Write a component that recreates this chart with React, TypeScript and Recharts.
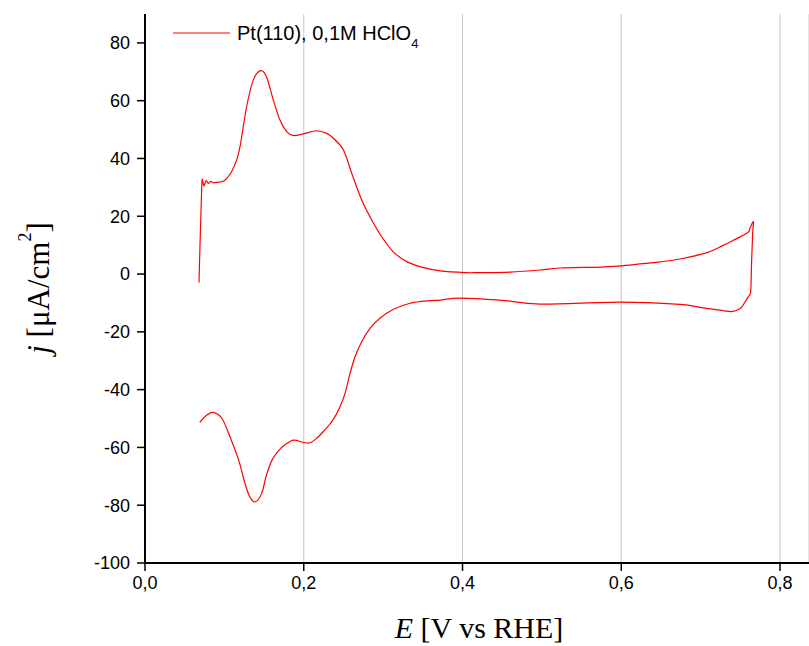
import { LineChart, Line, XAxis, YAxis, CartesianGrid } from "recharts";

// anodic sweep (upper branch), E in V vs RHE, j in µA/cm²
const anodicE = [
  0.068, 0.0714, 0.0727, 0.0743, 0.0769, 0.0798, 0.0828, 0.086, 0.0924, 0.0986,
  0.103, 0.109, 0.1155, 0.12, 0.128, 0.1365, 0.1457, 0.153, 0.1617, 0.17,
  0.1785, 0.187, 0.1995, 0.2163, 0.229, 0.2373, 0.25, 0.2604, 0.273, 0.2856,
  0.2982, 0.3128, 0.3297, 0.3506, 0.3717, 0.403, 0.422, 0.46,
  0.498, 0.523, 0.573, 0.598, 0.624, 0.649, 0.674, 0.708, 0.729, 0.758,
  0.762, 0.7665,
];
const anodicJ = [
  -2.9, 29.5, 32, 30.5, 32.3, 31.4, 32.1, 31.6, 31.8, 32.1,
  33.1, 35.4, 39.5, 44.5, 57.9, 67.2, 70.4, 68.3, 60.2, 53.3,
  49.3, 47.9, 48.5, 49.6, 48.7, 47, 42.9, 34.9, 25.6, 18.7,
  12.9, 7.7, 4.3, 2.2, 1.1, 0.5, 0.5, 0.7,
  1.4, 2.1, 2.4, 2.8, 3.5, 4.2, 5.2, 7.4, 10, 14.1,
  15.8, 18.1,
];

// cathodic sweep (lower branch)
const cathodicE = [
  0.7655, 0.764, 0.763, 0.76, 0.756, 0.75, 0.739, 0.724, 0.699, 0.674,
  0.598, 0.498, 0.447, 0.397, 0.372, 0.359, 0.334, 0.313, 0.296, 0.2835,
  0.273, 0.2646, 0.2583, 0.252, 0.2457, 0.2365, 0.225, 0.216, 0.208, 0.2,
  0.187, 0.176, 0.168, 0.16, 0.153, 0.147, 0.139, 0.132, 0.126, 0.118,
  0.107, 0.097, 0.086, 0.078, 0.069,
];
const cathodicJ = [
  14.1, 2.5, -6.1, -7.8, -9.6, -11.9, -13, -12.5, -11.5, -10.5,
  -9.7, -10.4, -9, -8.3, -9, -9.2, -10.1, -12.2, -15.3, -18.8,
  -23.4, -28.6, -34.4, -41.3, -45.9, -50.6, -54.4, -56.9, -58.4, -58.3,
  -57.5, -59.2, -61.2, -64.4, -69.6, -75.9, -78.8, -77.1, -72.5, -64.4,
  -56.3, -50, -47.9, -48.8, -51.3,
];

const xTicks = [0, 0.2, 0.4, 0.6, 0.8];
const yTicks = [-100, -80, -60, -40, -20, 0, 20, 40, 60, 80];

const data = [
  ...anodicE.map((e, i) => ({ E: e, j: anodicJ[i] })),
  ...cathodicE.map((e, i) => ({ E: e, j: cathodicJ[i] })),
];

const RED = "#ff0000";
const SANS = "'Liberation Sans', Arial, sans-serif";
const SERIF = "'Liberation Serif', 'Times New Roman', serif";

// smooth Catmull-Rom curve through the points (works for a non-monotone x)
function catmullRom(context: any) {
  let pts: [number, number][] = [];
  return {
    areaStart() {},
    areaEnd() {},
    lineStart() {
      pts = [];
    },
    point(x: number, y: number) {
      pts.push([+x, +y]);
    },
    lineEnd() {
      if (!pts.length) return;
      context.moveTo(pts[0][0], pts[0][1]);
      const t = 1 / 6;
      for (let i = 0; i < pts.length - 1; i++) {
        const p0 = pts[i - 1] || pts[i];
        const p1 = pts[i];
        const p2 = pts[i + 1];
        const p3 = pts[i + 2] || p2;
        context.bezierCurveTo(
          p1[0] + (p2[0] - p0[0]) * t,
          p1[1] + (p2[1] - p0[1]) * t,
          p2[0] - (p3[0] - p1[0]) * t,
          p2[1] - (p3[1] - p1[1]) * t,
          p2[0],
          p2[1]
        );
      }
    },
  };
}

export default function App() {
  return (
    <div style={{ position: "absolute", left: 0, top: 0, width: 809, height: 646, background: "#fff" }}>
      <LineChart
        width={809}
        height={646}
        data={data}
        margin={{ top: 14, right: 0, bottom: 0, left: 0 }}
      >
        <CartesianGrid horizontal={false} stroke="#c8c8c8" strokeWidth={1} />
        <XAxis
          xAxisId="top"
          orientation="top"
          dataKey="E"
          type="number"
          domain={[0, 0.8365]}
          allowDataOverflow
          height={0}
          tick={false}
          tickLine={false}
          axisLine={{ stroke: "#000", strokeWidth: 2 }}
        />
        <XAxis
          dataKey="E"
          type="number"
          domain={[0, 0.8365]}
          allowDataOverflow
          ticks={xTicks}
          tickFormatter={(v: number) => v.toFixed(1).replace(".", ",")}
          height={83}
          tickSize={8}
          tickMargin={5}
          axisLine={{ stroke: "#000", strokeWidth: 2 }}
          tickLine={{ stroke: "#000", strokeWidth: 1.5 }}
          tick={{ fill: "#000", fontSize: 18, fontFamily: SANS }}
          label={{
            content: () => (
              <text x={479} y={638} textAnchor="middle" fontFamily={SERIF} fontSize={30} fill="#000">
                <tspan fontStyle="italic">E</tspan> [V vs RHE]
              </text>
            ),
          }}
        />
        <YAxis
          type="number"
          domain={[-100, 90]}
          allowDataOverflow
          ticks={yTicks}
          width={145}
          tickSize={8}
          tickMargin={7}
          axisLine={{ stroke: "#000", strokeWidth: 2 }}
          tickLine={{ stroke: "#000", strokeWidth: 1.5 }}
          tick={{ fill: "#000", fontSize: 18, fontFamily: SANS }}
          label={{
            content: () => (
              <text
                x={38}
                y={288}
                transform="rotate(-90, 38, 288)"
                textAnchor="middle"
                dominantBaseline="central"
                fontFamily={SERIF}
                fontSize={31}
                fill="#000"
              >
                <tspan fontStyle="italic">j</tspan> [μA/cm
                <tspan fontSize={18} dy={-13}>2</tspan>
                <tspan dy={13}>]</tspan>
              </text>
            ),
          }}
        />
        <Line
          type={catmullRom as any}
          dataKey="j"
          stroke={RED}
          strokeWidth={1.2}
          dot={false}
          activeDot={false}
          isAnimationActive={false}
        />
      </LineChart>
      <svg
        width={320}
        height={40}
        style={{ position: "absolute", left: 145, top: 14, pointerEvents: "none" }}
      >
        <line x1={28} y1={19} x2={85} y2={19} stroke={RED} strokeWidth={1.2} />
        <text x={92} y={26} fontFamily={SANS} fontSize={20} fill="#000">
          Pt(110), 0,1M HClO
          <tspan fontSize={13} dy={8}>4</tspan>
        </text>
      </svg>
    </div>
  );
}
